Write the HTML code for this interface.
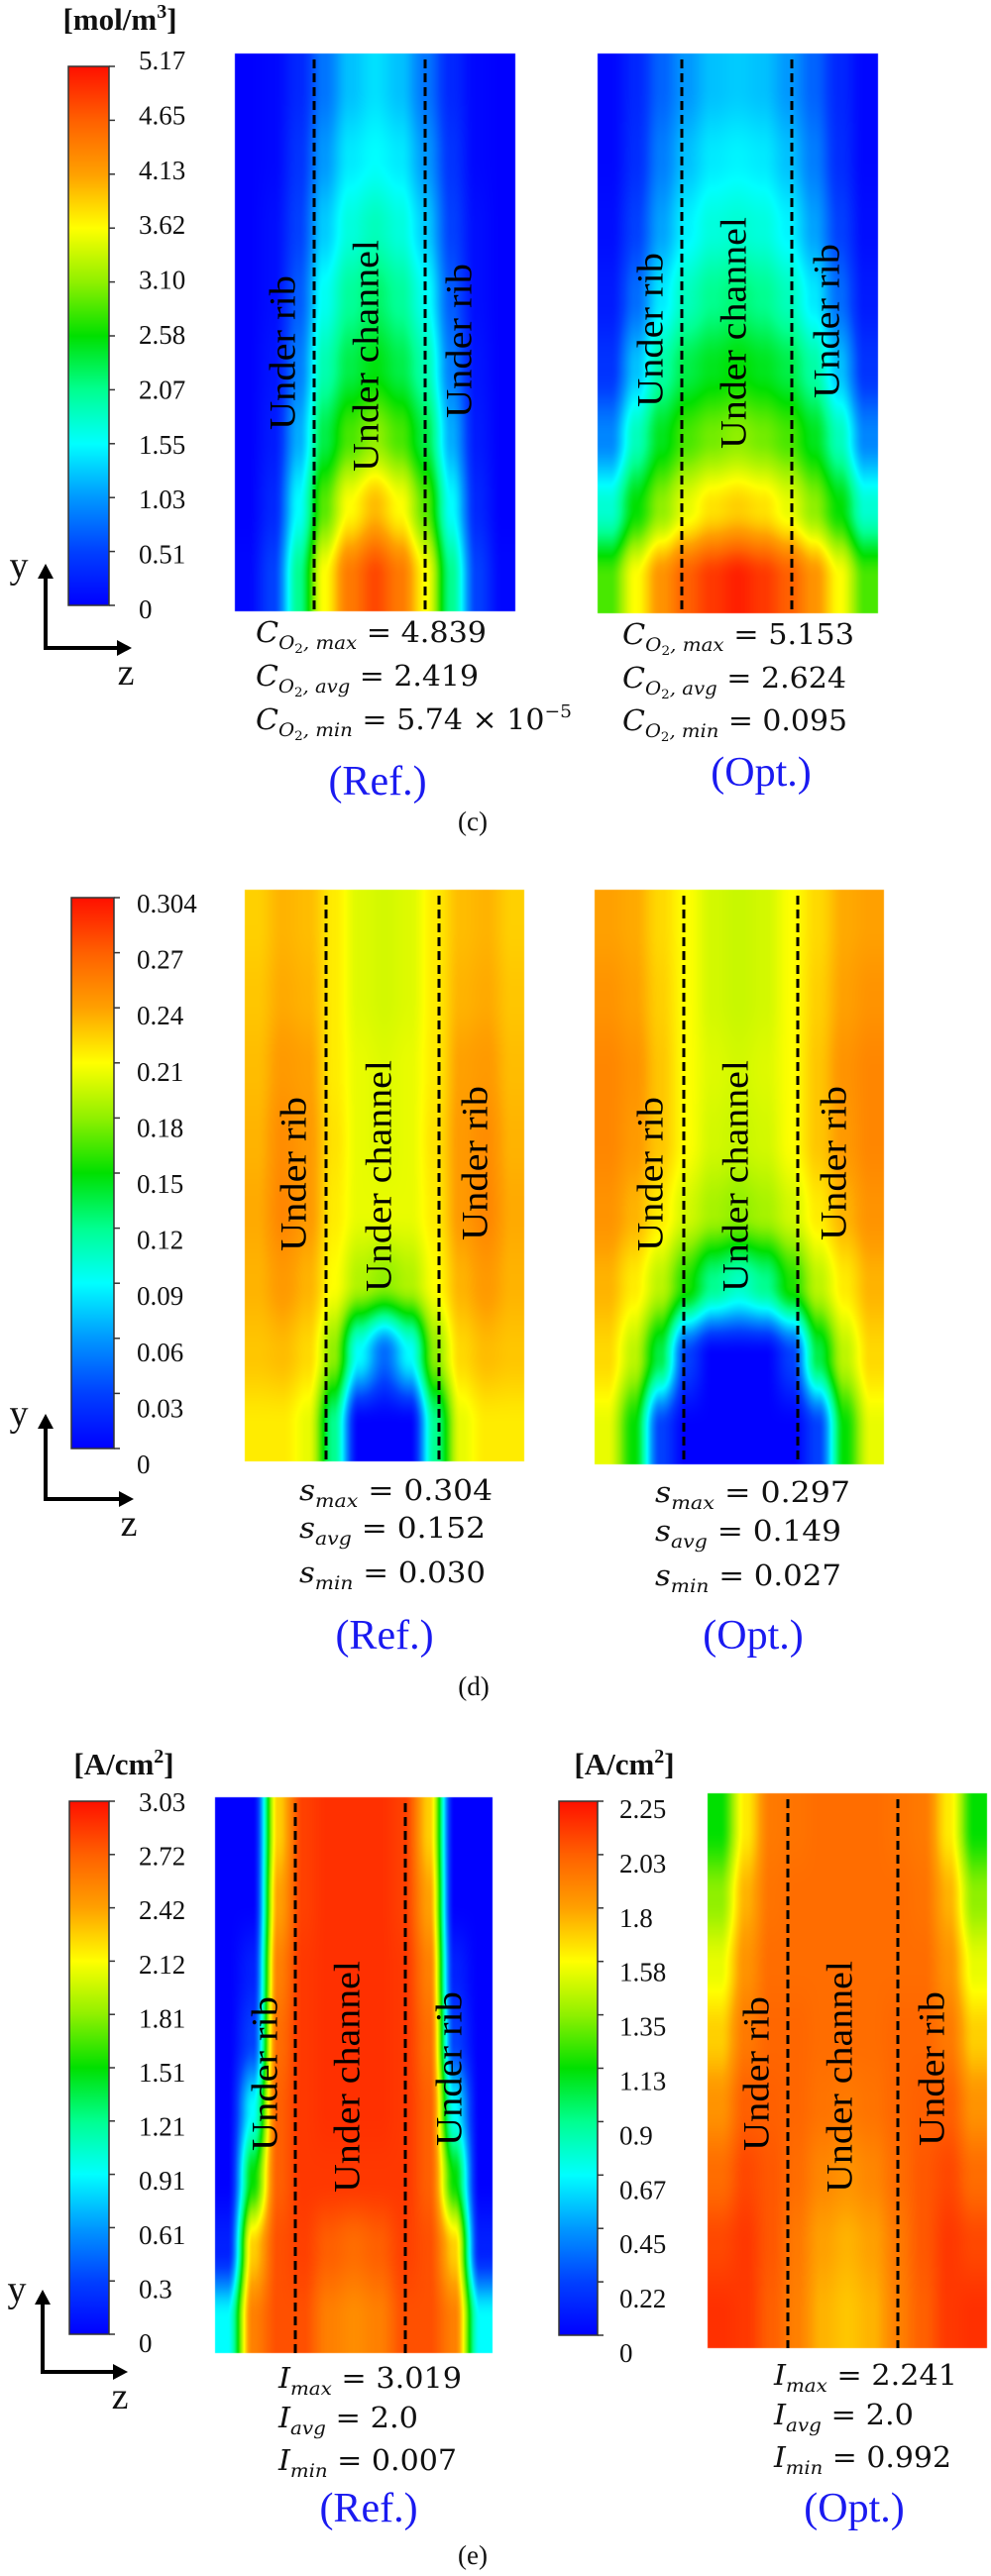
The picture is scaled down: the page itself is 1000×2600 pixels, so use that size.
<!DOCTYPE html>
<html><head><meta charset="utf-8">
<style>
html,body{margin:0;padding:0;background:#fff;}
#wrap{position:relative;width:1000px;height:2600px;}
#field{position:absolute;left:0;top:0;}
#fig{position:absolute;left:0;top:0;display:block;}
.lbl{font-family:"Liberation Serif",serif;font-size:27px;fill:#111;}
.unit{font-family:"Liberation Serif",serif;font-size:31px;font-weight:bold;fill:#111;}
.reg{font-family:"Liberation Serif",serif;font-size:37px;fill:#000;}
.math{font-family:"DejaVu Serif",serif;font-size:29px;fill:#111;}
.blue{font-family:"Liberation Serif",serif;font-size:42px;fill:#1a1af0;}
.cap{font-family:"Liberation Serif",serif;font-size:27px;fill:#111;}
.ax{font-family:"Liberation Serif",serif;font-size:38px;fill:#111;}
</style></head>
<body>
<div id="wrap">
<canvas id="field" width="1000" height="2600"></canvas>
<svg id="fig" xmlns="http://www.w3.org/2000/svg" width="1000" height="2600" viewBox="0 0 1000 2600">
<defs id="defs"></defs>
<g id="maps"></g>
<g id="bars"></g>

<text class="unit" x="121" y="30" text-anchor="middle">[mol/m<tspan font-size="20" dy="-12">3</tspan><tspan dy="12">]</tspan></text>
<text class="unit" x="125" y="1791" text-anchor="middle">[A/cm<tspan font-size="20" dy="-12">2</tspan><tspan dy="12">]</tspan></text>
<text class="unit" x="630" y="1791" text-anchor="middle">[A/cm<tspan font-size="20" dy="-12">2</tspan><tspan dy="12">]</tspan></text>

<g stroke="#000" stroke-width="4" fill="#000">
<line x1="46" y1="654" x2="46" y2="582"/><polygon points="38,584 54,584 46,569" stroke="none"/>
<line x1="44" y1="654" x2="120" y2="654"/><polygon points="118,646 118,662 133,654" stroke="none"/>
</g>
<text class="ax" x="19" y="583" text-anchor="middle">y</text>
<text class="ax" x="127" y="691" text-anchor="middle">z</text>

<g stroke="#000" stroke-width="4" fill="#000">
<line x1="46" y1="1513" x2="46" y2="1440"/><polygon points="38,1442 54,1442 46,1427" stroke="none"/>
<line x1="44" y1="1513" x2="122" y2="1513"/><polygon points="120,1505 120,1521 135,1513" stroke="none"/>
</g>
<text class="ax" x="19" y="1439" text-anchor="middle">y</text>
<text class="ax" x="130" y="1550" text-anchor="middle">z</text>

<g stroke="#000" stroke-width="4" fill="#000">
<line x1="43" y1="2394" x2="43" y2="2324"/><polygon points="35,2326 51,2326 43,2311" stroke="none"/>
<line x1="41" y1="2394" x2="116" y2="2394"/><polygon points="114,2386 114,2402 129,2394" stroke="none"/>
</g>
<text class="ax" x="17" y="2323" text-anchor="middle">y</text>
<text class="ax" x="121" y="2431" text-anchor="middle">z</text>

<g>
<text class="math" x="258" y="648" textLength="233" lengthAdjust="spacingAndGlyphs"><tspan font-style="italic">C</tspan><tspan font-size="19" dy="7" font-style="italic">O</tspan><tspan font-size="13" dy="4">2</tspan><tspan font-size="19" dy="-4" font-style="italic">, max</tspan><tspan dy="-7"> = 4.839</tspan></text>
<text class="math" x="258" y="692" textLength="225" lengthAdjust="spacingAndGlyphs"><tspan font-style="italic">C</tspan><tspan font-size="19" dy="7" font-style="italic">O</tspan><tspan font-size="13" dy="4">2</tspan><tspan font-size="19" dy="-4" font-style="italic">, avg</tspan><tspan dy="-7"> = 2.419</tspan></text>
<text class="math" x="258" y="736" textLength="319" lengthAdjust="spacingAndGlyphs"><tspan font-style="italic">C</tspan><tspan font-size="19" dy="7" font-style="italic">O</tspan><tspan font-size="13" dy="4">2</tspan><tspan font-size="19" dy="-4" font-style="italic">, min</tspan><tspan dy="-7"> = 5.74 × 10</tspan><tspan font-size="18" dy="-12">−5</tspan></text>
</g>
<g>
<text class="math" x="628" y="650" textLength="234" lengthAdjust="spacingAndGlyphs"><tspan font-style="italic">C</tspan><tspan font-size="19" dy="7" font-style="italic">O</tspan><tspan font-size="13" dy="4">2</tspan><tspan font-size="19" dy="-4" font-style="italic">, max</tspan><tspan dy="-7"> = 5.153</tspan></text>
<text class="math" x="628" y="694" textLength="226" lengthAdjust="spacingAndGlyphs"><tspan font-style="italic">C</tspan><tspan font-size="19" dy="7" font-style="italic">O</tspan><tspan font-size="13" dy="4">2</tspan><tspan font-size="19" dy="-4" font-style="italic">, avg</tspan><tspan dy="-7"> = 2.624</tspan></text>
<text class="math" x="628" y="737" textLength="227" lengthAdjust="spacingAndGlyphs"><tspan font-style="italic">C</tspan><tspan font-size="19" dy="7" font-style="italic">O</tspan><tspan font-size="13" dy="4">2</tspan><tspan font-size="19" dy="-4" font-style="italic">, min</tspan><tspan dy="-7"> = 0.095</tspan></text>
</g>
<text class="blue" x="381" y="802" text-anchor="middle">(Ref.)</text>
<text class="blue" x="768" y="793" text-anchor="middle">(Opt.)</text>
<text class="cap" x="477" y="838" text-anchor="middle">(c)</text>

<g>
<text class="math" x="302" y="1514" textLength="195" lengthAdjust="spacingAndGlyphs"><tspan font-style="italic">s</tspan><tspan font-size="19" dy="7" font-style="italic">max</tspan><tspan dy="-7"> = 0.304</tspan></text>
<text class="math" x="302" y="1552" textLength="188" lengthAdjust="spacingAndGlyphs"><tspan font-style="italic">s</tspan><tspan font-size="19" dy="7" font-style="italic">avg</tspan><tspan dy="-7"> = 0.152</tspan></text>
<text class="math" x="302" y="1597" textLength="188" lengthAdjust="spacingAndGlyphs"><tspan font-style="italic">s</tspan><tspan font-size="19" dy="7" font-style="italic">min</tspan><tspan dy="-7"> = 0.030</tspan></text>
</g>
<g>
<text class="math" x="661" y="1516" textLength="197" lengthAdjust="spacingAndGlyphs"><tspan font-style="italic">s</tspan><tspan font-size="19" dy="7" font-style="italic">max</tspan><tspan dy="-7"> = 0.297</tspan></text>
<text class="math" x="661" y="1555" textLength="188" lengthAdjust="spacingAndGlyphs"><tspan font-style="italic">s</tspan><tspan font-size="19" dy="7" font-style="italic">avg</tspan><tspan dy="-7"> = 0.149</tspan></text>
<text class="math" x="661" y="1600" textLength="188" lengthAdjust="spacingAndGlyphs"><tspan font-style="italic">s</tspan><tspan font-size="19" dy="7" font-style="italic">min</tspan><tspan dy="-7"> = 0.027</tspan></text>
</g>
<text class="blue" x="388" y="1664" text-anchor="middle">(Ref.)</text>
<text class="blue" x="760" y="1664" text-anchor="middle">(Opt.)</text>
<text class="cap" x="478" y="1711" text-anchor="middle">(d)</text>

<g>
<text class="math" x="281" y="2410" textLength="185" lengthAdjust="spacingAndGlyphs"><tspan font-style="italic">I</tspan><tspan font-size="19" dy="7" font-style="italic">max</tspan><tspan dy="-7"> = 3.019</tspan></text>
<text class="math" x="281" y="2450" textLength="141" lengthAdjust="spacingAndGlyphs"><tspan font-style="italic">I</tspan><tspan font-size="19" dy="7" font-style="italic">avg</tspan><tspan dy="-7"> = 2.0</tspan></text>
<text class="math" x="281" y="2493" textLength="180" lengthAdjust="spacingAndGlyphs"><tspan font-style="italic">I</tspan><tspan font-size="19" dy="7" font-style="italic">min</tspan><tspan dy="-7"> = 0.007</tspan></text>
</g>
<g>
<text class="math" x="781" y="2407" textLength="185" lengthAdjust="spacingAndGlyphs"><tspan font-style="italic">I</tspan><tspan font-size="19" dy="7" font-style="italic">max</tspan><tspan dy="-7"> = 2.241</tspan></text>
<text class="math" x="781" y="2447" textLength="141" lengthAdjust="spacingAndGlyphs"><tspan font-style="italic">I</tspan><tspan font-size="19" dy="7" font-style="italic">avg</tspan><tspan dy="-7"> = 2.0</tspan></text>
<text class="math" x="781" y="2490" textLength="179" lengthAdjust="spacingAndGlyphs"><tspan font-style="italic">I</tspan><tspan font-size="19" dy="7" font-style="italic">min</tspan><tspan dy="-7"> = 0.992</tspan></text>
</g>
<text class="blue" x="372" y="2545" text-anchor="middle">(Ref.)</text>
<text class="blue" x="862" y="2545" text-anchor="middle">(Opt.)</text>
<text class="cap" x="477" y="2588" text-anchor="middle">(e)</text>
</svg>
</div>

<script>
// ---- colormap (jet-like) ----
const cmapPos = [0, 0.1, 0.2, 0.3, 0.4, 0.5, 0.6, 0.7, 0.8, 0.9, 1];
const cmapCol = ['#0000ff','#0040ff','#0098ff','#00ffff','#00ff90','#00e000','#90f000','#ffff00','#ffa000','#ff6000','#ff1000'];

// ---- colorbar tick labels ----
const ticksC = ['5.17','4.65','4.13','3.62','3.10','2.58','2.07','1.55','1.03','0.51','0'];
const ticksD = ['0.304','0.27','0.24','0.21','0.18','0.15','0.12','0.09','0.06','0.03','0'];
const ticksERef = ['3.03','2.72','2.42','2.12','1.81','1.51','1.21','0.91','0.61','0.3','0'];
const ticksEOpt = ['2.25','2.03','1.8','1.58','1.35','1.13','0.9','0.67','0.45','0.22','0'];

// ---- field values (normalized 0..1 of each colorbar), rows top->bottom, 11 columns across z ----
const cRef = [
 [0,0.01,0.06,0.16,0.24,0.27,0.24,0.16,0.06,0.01,0],
 [0,0.01,0.08,0.20,0.28,0.30,0.28,0.20,0.08,0.01,0],
 [0,0.02,0.10,0.25,0.33,0.36,0.33,0.25,0.10,0.02,0],
 [0,0.02,0.13,0.31,0.39,0.43,0.39,0.31,0.13,0.02,0],
 [0,0.03,0.17,0.37,0.45,0.49,0.45,0.37,0.17,0.03,0],
 [0,0.04,0.22,0.45,0.55,0.60,0.55,0.45,0.22,0.04,0],
 [0,0.06,0.30,0.56,0.70,0.77,0.70,0.56,0.30,0.06,0],
 [0.01,0.10,0.40,0.70,0.86,0.93,0.86,0.70,0.40,0.10,0.01]
];
const cOpt = [
 [0.01,0.06,0.14,0.20,0.24,0.25,0.24,0.20,0.14,0.06,0.01],
 [0.01,0.07,0.17,0.24,0.28,0.29,0.28,0.24,0.17,0.07,0.01],
 [0.02,0.10,0.21,0.29,0.33,0.34,0.33,0.29,0.21,0.10,0.02],
 [0.04,0.15,0.28,0.36,0.40,0.42,0.40,0.36,0.28,0.15,0.04],
 [0.08,0.24,0.38,0.45,0.48,0.50,0.48,0.45,0.38,0.24,0.08],
 [0.18,0.36,0.48,0.55,0.58,0.60,0.58,0.55,0.48,0.36,0.18],
 [0.34,0.50,0.60,0.68,0.73,0.75,0.73,0.68,0.60,0.50,0.34],
 [0.55,0.70,0.82,0.90,0.95,0.98,0.95,0.90,0.82,0.70,0.55]
];
const dRef = [
 [0.75,0.78,0.77,0.72,0.67,0.66,0.67,0.72,0.77,0.78,0.75],
 [0.76,0.79,0.78,0.72,0.67,0.66,0.67,0.72,0.78,0.79,0.76],
 [0.77,0.81,0.80,0.72,0.68,0.67,0.68,0.72,0.80,0.81,0.77],
 [0.78,0.83,0.81,0.73,0.68,0.67,0.68,0.73,0.81,0.83,0.78],
 [0.79,0.84,0.81,0.72,0.68,0.68,0.68,0.72,0.81,0.84,0.79],
 [0.78,0.81,0.78,0.70,0.63,0.60,0.63,0.70,0.78,0.81,0.78],
 [0.76,0.77,0.74,0.60,0.30,0.15,0.30,0.60,0.74,0.77,0.76],
 [0.72,0.72,0.68,0.40,0.00,0.00,0.00,0.40,0.68,0.72,0.72]
];
const dOpt = [
 [0.80,0.79,0.74,0.70,0.66,0.65,0.66,0.70,0.74,0.79,0.80],
 [0.82,0.80,0.75,0.70,0.66,0.65,0.66,0.70,0.75,0.80,0.82],
 [0.84,0.82,0.76,0.70,0.67,0.66,0.67,0.70,0.76,0.82,0.84],
 [0.84,0.81,0.76,0.70,0.66,0.65,0.66,0.70,0.76,0.81,0.84],
 [0.82,0.78,0.72,0.66,0.62,0.60,0.62,0.66,0.72,0.78,0.82],
 [0.78,0.72,0.64,0.52,0.40,0.35,0.40,0.52,0.64,0.72,0.78],
 [0.74,0.64,0.45,0.10,0.00,0.00,0.00,0.10,0.45,0.64,0.74],
 [0.68,0.50,0.10,0.00,0.00,0.00,0.00,0.00,0.10,0.50,0.68]
];
const eRef = [
 [0,0.00,0.75,0.94,0.96,0.96,0.96,0.94,0.75,0.00,0],
 [0,0.00,0.80,0.94,0.96,0.96,0.96,0.94,0.80,0.00,0],
 [0,0.05,0.85,0.95,0.96,0.96,0.96,0.95,0.85,0.05,0],
 [0,0.10,0.88,0.95,0.96,0.96,0.96,0.95,0.88,0.10,0],
 [0,0.30,0.90,0.95,0.96,0.96,0.96,0.95,0.90,0.30,0],
 [0,0.50,0.90,0.95,0.95,0.95,0.95,0.95,0.90,0.50,0],
 [0.05,0.75,0.92,0.94,0.90,0.88,0.90,0.94,0.92,0.75,0.05],
 [0.30,0.85,0.92,0.92,0.85,0.83,0.85,0.92,0.92,0.85,0.30]
];
const eOpt = [
 [0.50,0.72,0.86,0.87,0.88,0.88,0.88,0.87,0.86,0.72,0.50],
 [0.60,0.78,0.87,0.88,0.88,0.88,0.88,0.88,0.87,0.78,0.60],
 [0.68,0.82,0.88,0.88,0.88,0.88,0.88,0.88,0.88,0.82,0.68],
 [0.75,0.86,0.89,0.89,0.88,0.88,0.88,0.89,0.89,0.86,0.75],
 [0.82,0.90,0.90,0.89,0.87,0.86,0.87,0.89,0.90,0.90,0.82],
 [0.88,0.93,0.91,0.88,0.84,0.82,0.84,0.88,0.91,0.93,0.88],
 [0.93,0.95,0.91,0.86,0.80,0.78,0.80,0.86,0.91,0.95,0.93],
 [0.96,0.95,0.90,0.85,0.78,0.76,0.78,0.85,0.90,0.95,0.96]
];

const NS = 'http://www.w3.org/2000/svg';
const defs = document.getElementById('defs');
const maps = document.getElementById('maps');
const bars = document.getElementById('bars');
const ctx = document.getElementById('field').getContext('2d');

function hex2rgb(h){return [parseInt(h.substr(1,2),16),parseInt(h.substr(3,2),16),parseInt(h.substr(5,2),16)];}
const cmapRGB = cmapCol.map(hex2rgb);
function rgbOf(t){
  t = Math.max(0, Math.min(1, t));
  for (let i = 1; i < cmapPos.length; i++) {
    if (t <= cmapPos[i]) {
      const f = (t - cmapPos[i-1]) / (cmapPos[i] - cmapPos[i-1]);
      const a = cmapRGB[i-1], b = cmapRGB[i];
      return [a[0]+(b[0]-a[0])*f, a[1]+(b[1]-a[1])*f, a[2]+(b[2]-a[2])*f];
    }
  }
  return cmapRGB[cmapRGB.length-1];
}
function mk(tag, attrs){const e=document.createElementNS(NS,tag);for(const k in attrs)e.setAttribute(k,attrs[k]);return e;}
function smooth(f){return f*f*(3-2*f);}
function sample(rows, u, v){
  const nr = rows.length, nc = rows[0].length;
  let cx = Math.max(0, Math.min(nc-1, u*nc-0.5));
  let cy = Math.max(0, Math.min(nr-1, v*nr-0.5));
  const x0 = Math.floor(cx), y0 = Math.floor(cy);
  const x1 = Math.min(nc-1, x0+1), y1 = Math.min(nr-1, y0+1);
  const fx = smooth(cx-x0), fy = smooth(cy-y0);
  const top = rows[y0][x0]*(1-fx) + rows[y0][x1]*fx;
  const bot = rows[y1][x0]*(1-fx) + rows[y1][x1]*fx;
  return top*(1-fy) + bot*fy;
}

// colorbar gradient
const grad = mk('linearGradient',{id:'jet',x1:'0',y1:'1',x2:'0',y2:'0'});
cmapPos.forEach((p,i)=>{grad.appendChild(mk('stop',{offset:p,'stop-color':cmapCol[i]}));});
defs.appendChild(grad);

const plotCfg = [
 {key:'c-ref', rows:cRef, x:237,y:54,w:283,h:563, dashes:[317,429], regions:[[286,356,'Under rib'],[370,359,'Under channel'],[464,344,'Under rib']]},
 {key:'c-opt', rows:cOpt, x:603,y:54,w:283,h:565, dashes:[688,799], regions:[[657,333,'Under rib'],[741,336,'Under channel'],[835,324,'Under rib']]},
 {key:'d-ref', rows:dRef, x:247,y:898,w:282,h:577, dashes:[329,443], regions:[[297,1185,'Under rib'],[383,1187,'Under channel'],[480,1174,'Under rib']]},
 {key:'d-opt', rows:dOpt, x:600,y:898,w:292,h:580, dashes:[690,805], regions:[[657,1185,'Under rib'],[743,1187,'Under channel'],[842,1174,'Under rib']]},
 {key:'e-ref', rows:eRef, x:217,y:1814,w:280,h:561, dashes:[298,409], regions:[[268,2093,'Under rib'],[351,2096,'Under channel'],[454,2088,'Under rib']]},
 {key:'e-opt', rows:eOpt, x:714,y:1810,w:282,h:560, dashes:[795,906], regions:[[764,2093,'Under rib'],[848,2096,'Under channel'],[941,2088,'Under rib']]}
];

plotCfg.forEach(p=>{
  const img = ctx.createImageData(p.w, p.h);
  for (let j = 0; j < p.h; j++) {
    const v = (j+0.5)/p.h;
    for (let i = 0; i < p.w; i++) {
      const u = (i+0.5)/p.w;
      const c = rgbOf(sample(p.rows, u, v));
      const k = (j*p.w + i)*4;
      img.data[k] = c[0]; img.data[k+1] = c[1]; img.data[k+2] = c[2]; img.data[k+3] = 255;
    }
  }
  ctx.putImageData(img, p.x, p.y);

  const panel = mk('g',{});
  
  
  p.dashes.forEach(dx=>{
    const ln = mk('line',{x1:dx,y1:p.y+6,x2:dx,y2:p.y+p.h,stroke:'#000','stroke-width':3,'stroke-dasharray':'9 5'});
    
    
    panel.appendChild(ln);
  });
  p.regions.forEach(rg=>{
    const t = mk('text',{class:'reg',x:0,y:0,'text-anchor':'middle','dominant-baseline':'central',transform:'translate('+rg[0]+','+rg[1]+') rotate(-90)',textLength:(rg[2]==='Under rib'?156:234),lengthAdjust:'spacingAndGlyphs'});
    t.textContent = rg[2];
    
    
    panel.appendChild(t);
  });
  maps.appendChild(panel);
});

const barCfg = [
 {key:'c', ticks:ticksC, x:69,y:67,w:41,h:544, ly0:61, ly1:615, lx:140},
 {key:'d', ticks:ticksD, x:72,y:906,w:43,h:556, ly0:912, ly1:1478, lx:138},
 {key:'e-ref', ticks:ticksERef, x:70,y:1818,w:40,h:538, ly0:1819, ly1:2365, lx:140},
 {key:'e-opt', ticks:ticksEOpt, x:564,y:1818,w:39,h:539, ly0:1826, ly1:2375, lx:625}
];
barCfg.forEach(b=>{
  const g = mk('g',{});
  
  
  const r = mk('rect',{x:b.x,y:b.y,width:b.w,height:b.h,fill:'url(#jet)',stroke:'#333','stroke-width':1.5});
  
  
  g.appendChild(r);
  const n = b.ticks.length;
  b.ticks.forEach((lab,i)=>{
    const ty = b.y + b.h*i/(n-1);
    const tk = mk('line',{x1:b.x+b.w,y1:ty,x2:b.x+b.w+6,y2:ty,stroke:'#333','stroke-width':1.5});
    
    
    g.appendChild(tk);
    const ly = b.ly0 + (b.ly1-b.ly0)*i/(n-1);
    const t = mk('text',{class:'lbl',x:b.lx,y:ly,'dominant-baseline':'central'});
    t.textContent = lab;
    
    
    g.appendChild(t);
  });
  bars.appendChild(g);
});
</script>
</body></html>
